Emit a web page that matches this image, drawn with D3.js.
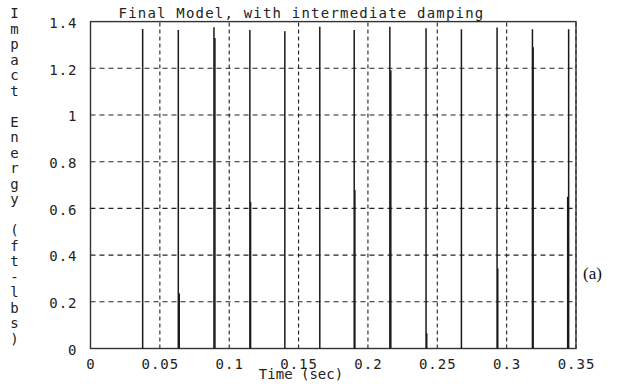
<!DOCTYPE html>
<html>
<head>
<meta charset="utf-8">
<script src="https://cdn.jsdelivr.net/npm/d3@7"></script>
<style>
  html, body { margin: 0; padding: 0; background: #fff; }
  svg { display: block; }
  .mono { font-family: "DejaVu Sans Mono", "Liberation Mono", monospace; fill: #222; }
</style>
</head>
<body>
<svg id="chart" width="629" height="389"></svg>
<script>
// Impact events: time of impact (s) and impact energy (ft-lbs)
const impactTimes    = [0.0376, 0.0633, 0.0640, 0.0890, 0.0897, 0.1149, 0.1154, 0.1401, 0.1653,
                        0.1901, 0.1906, 0.2158, 0.2165, 0.2419, 0.2424, 0.2674, 0.2931, 0.2936,
                        0.3186, 0.3191, 0.3447, 0.3440];
const impactEnergies = [1.368, 1.364, 0.236, 1.376, 1.330, 1.364, 0.628, 1.359, 1.378,
                        1.364, 0.679, 1.378, 1.192, 1.371, 0.065, 1.367, 1.375, 0.343,
                        1.367, 1.290, 1.367, 0.650];

const xTickValues = [0, 0.05, 0.1, 0.15, 0.2, 0.25, 0.3, 0.35];
const xTickLabels = ["0", "0.05", "0.1", "0.15", "0.2", "0.25", "0.3", "0.35"];
const yTickValues = [0, 0.2, 0.4, 0.6, 0.8, 1, 1.2, 1.4];
const yTickLabels = ["0", "0.2", "0.4", "0.6", "0.8", "1", "1.2", "1.4"];

const titleText = "Final Model, with intermediate damping";
const xLabelText = "Time (sec)";
const yLabelText = "Impact Energy (ft-lbs)";
const panelTag = "(a)";

const svg = d3.select("#chart");
const ink = "#222";

const x = d3.scaleLinear().domain([0, 0.35]).range([90.5, 576]);
const y = d3.scaleLinear().domain([0, 1.4]).range([348.5, 21.6]);

// dashed grid
const grid = svg.append("g");
grid.selectAll("line.hg")
  .data(yTickValues.filter(v => v > 0 && v < 1.4))
  .join("line")
  .attr("x1", x(0)).attr("x2", x(0.35))
  .attr("y1", d => y(d)).attr("y2", d => y(d))
  .attr("stroke", ink).attr("stroke-width", 1.1)
  .attr("stroke-dasharray", "5,4");
grid.selectAll("line.vg")
  .data(xTickValues.filter(v => v > 0))
  .join("line")
  .attr("x1", d => x(d)).attr("x2", d => x(d))
  .attr("y1", y(0)).attr("y2", y(1.4))
  .attr("stroke", ink).attr("stroke-width", 1.1)
  .attr("stroke-dasharray", "4,3");

// frame
svg.append("rect")
  .attr("x", x(0)).attr("y", y(1.4))
  .attr("width", x(0.35) - x(0)).attr("height", y(0) - y(1.4))
  .attr("fill", "none").attr("stroke", "#333").attr("stroke-width", 1.4);

// impulses
svg.append("g").selectAll("line")
  .data(impactTimes.map((t, i) => ({ t, e: impactEnergies[i] })))
  .join("line")
  .attr("x1", d => x(d.t)).attr("x2", d => x(d.t))
  .attr("y1", y(0)).attr("y2", d => y(d.e))
  .attr("stroke", "#1a1a1a").attr("stroke-width", 1.5);

// axes (labels only)
const xAxis = d3.axisBottom(x).tickValues(xTickValues)
  .tickFormat((d, i) => xTickLabels[i]).tickSize(0).tickPadding(11);
const gx = svg.append("g").attr("transform", `translate(0,${y(0)})`).call(xAxis);
gx.select(".domain").remove();
gx.selectAll("text").attr("class", "mono").attr("fill", ink)
  .style("font-size", "14px").style("letter-spacing", "1px");

const yAxis = d3.axisLeft(y).tickValues(yTickValues)
  .tickFormat((d, i) => yTickLabels[i]).tickSize(0).tickPadding(13);
const gy = svg.append("g").attr("transform", `translate(${x(0)},0)`).call(yAxis);
gy.select(".domain").remove();
gy.selectAll("text").attr("class", "mono").attr("fill", ink)
  .attr("dy", "0.42em")
  .style("font-size", "14px").style("letter-spacing", "1px");

// title
svg.append("text").attr("class", "mono")
  .attr("x", 301.5).attr("y", 18).attr("text-anchor", "middle")
  .style("font-size", "14px").style("letter-spacing", "1.2px")
  .text(titleText);

// x label
svg.append("text").attr("class", "mono")
  .attr("x", 301).attr("y", 379).attr("text-anchor", "middle")
  .style("font-size", "14px")
  .text(xLabelText);

// y label, stacked characters
svg.append("g").selectAll("text")
  .data(Array.from(yLabelText))
  .join("text").attr("class", "mono")
  .attr("x", 14.5).attr("y", (d, i) => 18 + i * 15.5)
  .attr("text-anchor", "middle")
  .style("font-size", "14px")
  .text(d => d);

// panel tag
svg.append("text")
  .attr("x", 583).attr("y", 279)
  .style("font-family", "'Liberation Serif', 'DejaVu Serif', serif")
  .style("font-size", "17px").attr("fill", "#111")
  .text(panelTag);
</script>
</body>
</html>
